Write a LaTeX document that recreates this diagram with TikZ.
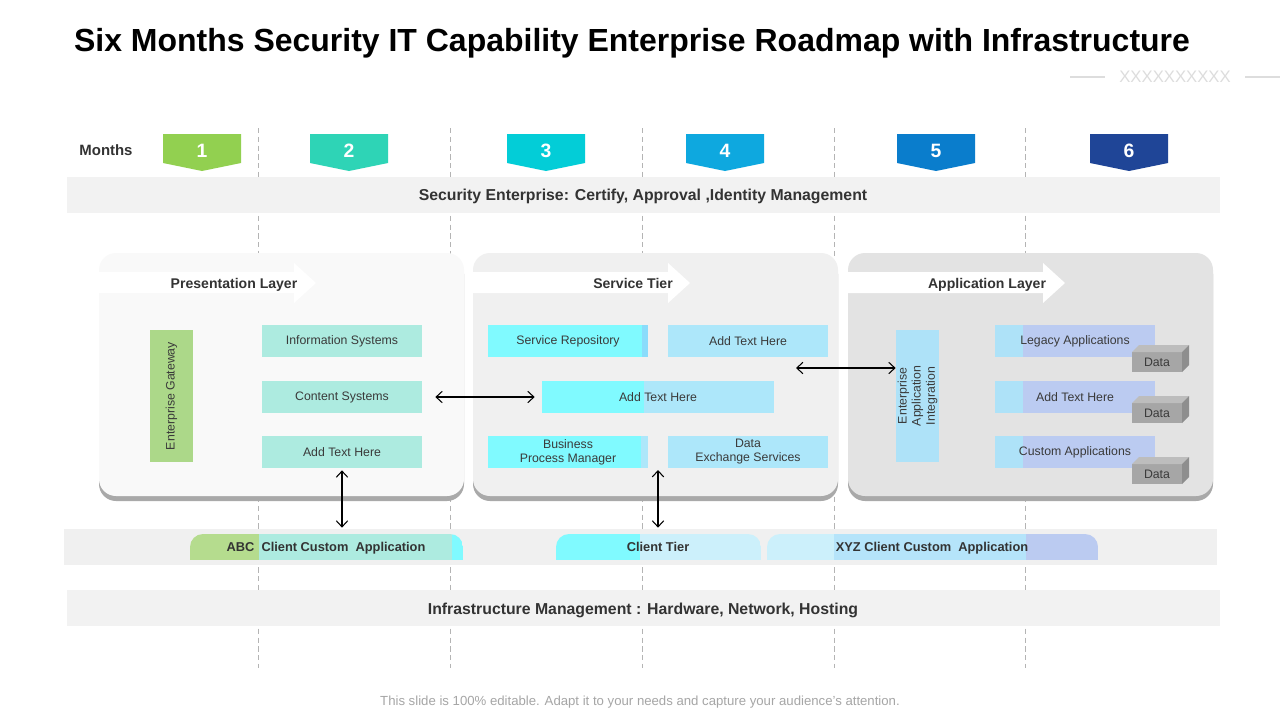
\documentclass[tikz,border=0pt]{standalone}
\usepackage{fontspec}
\setmainfont{Liberation Sans}
\usetikzlibrary{arrows.meta}

\definecolor{txtdark}{HTML}{333333}
\definecolor{txtbox}{HTML}{3A3A3A}
\definecolor{bandgray}{HTML}{F2F2F2}
\definecolor{vlinegray}{HTML}{B4B4B4}
\definecolor{monthA}{HTML}{92D050}
\definecolor{monthB}{HTML}{2ED4B6}
\definecolor{monthC}{HTML}{03CDD7}
\definecolor{monthD}{HTML}{0EA8DF}
\definecolor{monthE}{HTML}{0A7DCC}
\definecolor{monthF}{HTML}{1F4597}
\definecolor{panelA}{HTML}{F9F9F9}
\definecolor{panelB}{HTML}{F0F0F0}
\definecolor{panelC}{HTML}{E3E3E3}
\definecolor{panelshadow}{HTML}{A9A9A9}
\definecolor{tealbox}{HTML}{ADEBE0}
\definecolor{greenbox}{HTML}{ACD889}
\definecolor{greentab}{HTML}{B5DC8E}
\definecolor{cyanbox}{HTML}{80FAFF}
\definecolor{bluebox}{HTML}{ADE7FA}
\definecolor{stripblue}{HTML}{8ADCFB}
\definecolor{eaibox}{HTML}{AEE2F8}
\definecolor{lavbox}{HTML}{BBCBF1}
\definecolor{bluetab}{HTML}{CCF0FB}
\definecolor{bluetabB}{HTML}{B5E4FA}
\definecolor{datafront}{HTML}{A6A6A6}
\definecolor{datatop}{HTML}{BDBDBD}
\definecolor{dataside}{HTML}{8E8E8E}
\definecolor{footgray}{HTML}{A6A6A6}
\definecolor{decogray}{HTML}{DDDDDD}

\tikzset{
  vline/.style={vlinegray, line width=0.5pt, dash pattern=on 3pt off 2pt},
  bandtext/.style={font=\fontsize{9}{11}\selectfont\bfseries, text=txtdark,
    text height=6.5pt, text depth=0pt},
  monthnum/.style={font=\fontsize{11}{13}\selectfont\bfseries, text=white},
  layertitle/.style={font=\fontsize{8}{10}\selectfont\bfseries, text=txtdark,
    text height=5.8pt, text depth=0pt},
  box/.style={minimum width=3.2cm, minimum height=0.64cm, inner sep=0pt, align=center,
    font=\fontsize{7}{8}\selectfont, text=txtbox},
  upbox/.style={box, minimum width=2.64cm, minimum height=0.86cm, rotate=90},
  datatext/.style={font=\fontsize{7}{8}\selectfont, text=txtbox},
  tabtext/.style={font=\fontsize{7.3}{9}\selectfont\bfseries, text=txtdark, inner sep=0pt,
    minimum height=0.52cm, text height=5.4pt, text depth=0pt},
  link/.style={<->, line width=0.6pt, black},
}

\begin{document}
\begin{tikzpicture}[x=0.02cm,y=-0.02cm,>={Straight Barb[length=3.5pt,width=6.5pt]}]
\useasboundingbox (0,0) rectangle (1280,720);
\fill[white] (0,0) rectangle (1280,720);

\node[font=\fontsize{18.2}{21}\selectfont\bfseries, text=black] (title) at (632,43)
  {Six Months Security IT Capability Enterprise Roadmap with Infrastructure};
\draw[decogray, line width=0.6pt] (1070,77) -- (1105,77);
\node[font=\fontsize{9.5}{11}\selectfont, text=decogray, inner sep=0pt] (deco) at (1175,77) {XXXXXXXXXX};
\draw[decogray, line width=0.6pt] (1245,77) -- (1280,77);

\foreach \x in {258,450,642,834,1025}
  \draw[vline] (\x,128) -- (\x,668);

\node[font=\fontsize{8.5}{10}\selectfont\bfseries, text=txtdark] (months) at (106,150) {Months};
\foreach \n/\x/\c in {1/202/monthA,2/349/monthB,3/546/monthC,4/725/monthD,5/936/monthE,6/1129/monthF} {
  \fill[\c] (\x-39,134) -- (\x+39,134) -- (\x+39,163) -- (\x,171) -- (\x-39,163) -- cycle;
  \node[monthnum] (m\n) at (\x,151) {\n};
}

\fill[bandgray] (67,177) rectangle (1220,213);
\node[bandtext] (secur) at (643,195) {Security Enterprise: Certify, Approval ,Identity Management};

% layers
\fill[panelshadow, rounded corners=0.34cm] (99,257) rectangle (464,501);
\fill[panelA, rounded corners=0.34cm] (99,253) rectangle (464,496);
\fill[panelshadow, rounded corners=0.34cm] (473,257) rectangle (838,501);
\fill[panelB, rounded corners=0.34cm] (473,253) rectangle (838,496);
\fill[panelshadow, rounded corners=0.34cm] (848,257) rectangle (1213,501);
\fill[panelC, rounded corners=0.34cm] (848,253) rectangle (1213,496);
\foreach \x in {99,473,848}
  \fill[white] (\x,272) -- (\x+195,272) -- (\x+195,263) -- (\x+217,283) -- (\x+195,303)
    -- (\x+195,293) -- (\x,293) -- cycle;
\node[layertitle] (presl) at (234,283) {Presentation Layer};
\node[layertitle] (servt) at (633,283) {Service Tier};
\node[layertitle] (appl) at (987,283) {Application Layer};

\node[upbox, fill=greenbox] (gate) at (171.5,396) {Enterprise Gateway};
\node[box, fill=tealbox] (info) at (342,341) {Information Systems};
\node[box, fill=tealbox] (cont) at (342,397) {Content Systems};
\node[box, fill=tealbox] (padd) at (342,452) {Add Text Here};

\fill[cyanbox] (488,325) rectangle (642,357);
\fill[stripblue] (642,325) rectangle (648,357);
\node[box] (srep) at (568,341) {Service Repository};
\node[box, fill=bluebox] (sadd) at (748,341) {Add Text Here};
\fill[cyanbox] (542,381) rectangle (644,413);
\fill[bluebox] (644,381) rectangle (774,413);
\node[box, minimum width=4.64cm] (madd) at (658,397) {Add Text Here};
\fill[cyanbox] (488,436) rectangle (641,468);
\fill[bluebox] (641,436) rectangle (648,468);
\node[box] (bpm) at (568,452) {Business\\Process Manager};
\node[box, fill=bluebox] (dex) at (748,452) {Data\\Exchange Services};

\node[upbox, fill=eaibox] (eai) at (917.5,396) {Enterprise\\Application\\Integration};
\foreach \y in {325,381,436} {
  \fill[eaibox] (995,\y) rectangle (1023,\y+32);
  \fill[lavbox] (1023,\y) rectangle (1155,\y+32);
}
\node[box] (legacy) at (1075,341) {Legacy Applications};
\node[box] (aadd) at (1075,397) {Add Text Here};
\node[box] (custom) at (1075,452) {Custom Applications};
\foreach \y/\k in {352/1,403/2,464/3} {
  \fill[datafront] (1132,\y) rectangle (1182,\y+20);
  \fill[datatop] (1132,\y) -- (1139,\y-7) -- (1189,\y-7) -- (1182,\y) -- cycle;
  \fill[dataside] (1182,\y) -- (1189,\y-7) -- (1189,\y+13) -- (1182,\y+20) -- cycle;
  \node[datatext] (data\k) at (1157,\y+10) {Data};
}

% clients
\fill[panelB] (64,529) rectangle (1217,565);
\begin{scope}
  \clip[rounded corners=0.26cm] (190,534) rectangle (463,575);
  \fill[greentab] (190,534) rectangle (259,560);
  \fill[tealbox] (259,534) rectangle (452,560);
  \fill[cyanbox] (452,534) rectangle (463,560);
\end{scope}
\begin{scope}
  \clip[rounded corners=0.26cm] (556,534) rectangle (761,575);
  \fill[cyanbox] (556,534) rectangle (640,560);
  \fill[bluetab] (640,534) rectangle (761,560);
\end{scope}
\begin{scope}
  \clip[rounded corners=0.26cm] (767,534) rectangle (1098,575);
  \fill[bluetab] (767,534) rectangle (834,560);
  \fill[bluetabB] (834,534) rectangle (1026,560);
  \fill[lavbox] (1026,534) rectangle (1098,560);
\end{scope}
\node[tabtext, minimum width=5.46cm] (abc) at (326,547) {ABC\ \ Client Custom\ \ Application};
\node[tabtext, minimum width=4.1cm] (ctier) at (658,547) {Client Tier};
\node[tabtext, minimum width=6.62cm] (xyz) at (932,547) {XYZ Client Custom\ \ Application};

\fill[bandgray] (67,590) rectangle (1220,626);
\node[bandtext] (infra) at (643,609) {Infrastructure Management : Hardware, Network, Hosting};

\draw[link, shorten <=0.26cm, shorten >=0.14cm] (cont) -- (madd);
\coordinate (eaiin) at (796,368);
\draw[link] (eaiin) -- (eaiin -| eai.north);
\draw[link, shorten <=0.04cm, shorten >=0.12cm] (padd.south) -- (padd.south |- abc.north);
\coordinate (bpgap) at (658,470);
\draw[link, shorten >=0.12cm] (bpgap) -- (ctier.north);

\node[font=\fontsize{7.5}{9}\selectfont, text=footgray] (foot) at (640,702)
  {This slide is 100\% editable. Adapt it to your needs and capture your audience’s attention.};
\end{tikzpicture}
\end{document}
